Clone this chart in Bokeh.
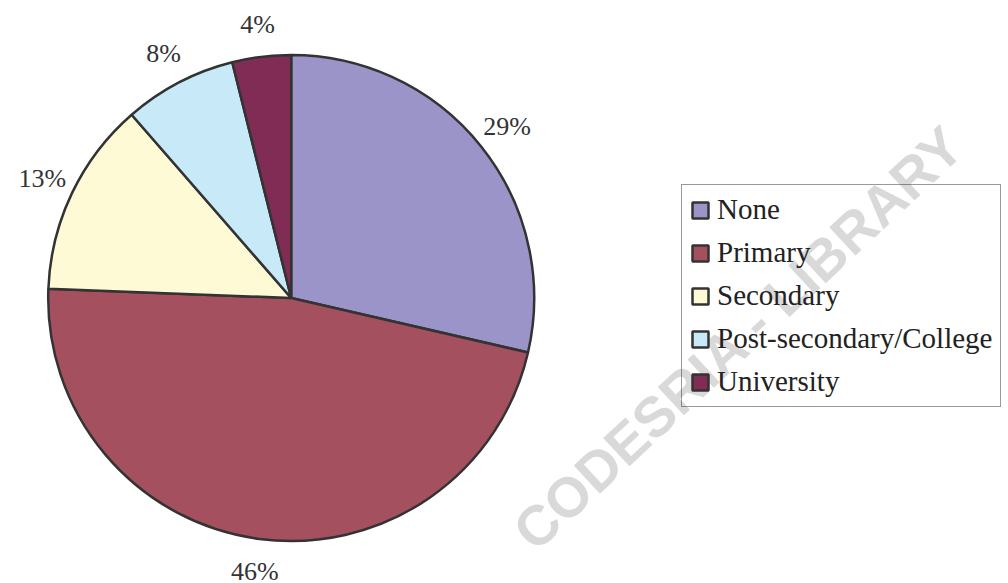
import numpy as np
from bokeh.plotting import figure
from bokeh.layouts import gridplot
from bokeh.models import Range1d, Legend, LegendItem, ColumnDataSource
from bokeh.core.properties import value
from bokeh.embed import file_html
from bokeh.resources import INLINE

# ---- data ----
categories = ["None", "Primary", "Secondary", "Post-secondary/College", "University"]
shares = [28.6, 47.0, 13.0, 7.5, 3.9]
labels = ["29%", "46%", "13%", "8%", "4%"]
colors = ["#9B94C8", "#A5505E", "#FFFAD6", "#C7E9F8", "#812C55"]
watermark = "CODESRIA - LIBRARY"

# ---- layout ----
W, H = 1008, 583
cx, cy, r = 290.7, H - 297.5, 243.0
label_r = 276.0

vals = np.array(shares, dtype=float)
frac = vals / vals.sum()
cum = np.cumsum(frac)
prev = np.concatenate([[0.0], cum[:-1]])
start = np.pi / 2 - 2 * np.pi * prev
end = np.pi / 2 - 2 * np.pi * cum
mid = (start + end) / 2

src = ColumnDataSource(dict(
    cat=categories, start=start, end=end, color=colors,
    x=[cx] * len(categories), y=[cy] * len(categories),
))
lab_src = ColumnDataSource(dict(
    lx=list(cx + label_r * np.cos(mid)), ly=list(cy + label_r * np.sin(mid)), text=labels,
))

p = figure(width=W, height=H, x_range=Range1d(0, W), y_range=Range1d(0, H),
           output_backend="svg", toolbar_location=None, min_border=0,
           x_axis_location=None, y_axis_location=None)
p.grid.visible = False
p.outline_line_color = None

wr = p.wedge(x="x", y="y", radius=r, start_angle="start", end_angle="end",
             direction="clock", fill_color="color", line_color="#333333",
             line_width=2.5, source=src)

p.text(x="lx", y="ly", text="text", source=lab_src,
       text_align="center", text_baseline="middle",
       text_font=value("Liberation Serif"), text_font_size="26px",
       text_color="#333333")

# faint diagonal watermark
p.text(x=[955], y=[H - 135], text=[watermark], angle=np.radians(43),
       text_align="right", text_baseline="middle",
       text_font=value("Liberation Sans"),
       text_font_size="56px", text_font_style="bold",
       text_color="#d9d9d9")

items = [LegendItem(label=c, renderers=[wr], index=i) for i, c in enumerate(categories)]
legend = Legend(items=items, location=(681, 176), orientation="vertical",
                border_line_color="#333333", border_line_width=1,
                background_fill_alpha=0, padding=8, spacing=10, margin=0,
                glyph_width=20, glyph_height=20, label_standoff=7,
                label_height=30,
                label_text_font="Liberation Serif", label_text_font_size="29px",
                label_text_color="#222222")
p.add_layout(legend)

grid = gridplot([[p]], toolbar_location=None)
open("out.html", "w").write(file_html(grid, INLINE))
